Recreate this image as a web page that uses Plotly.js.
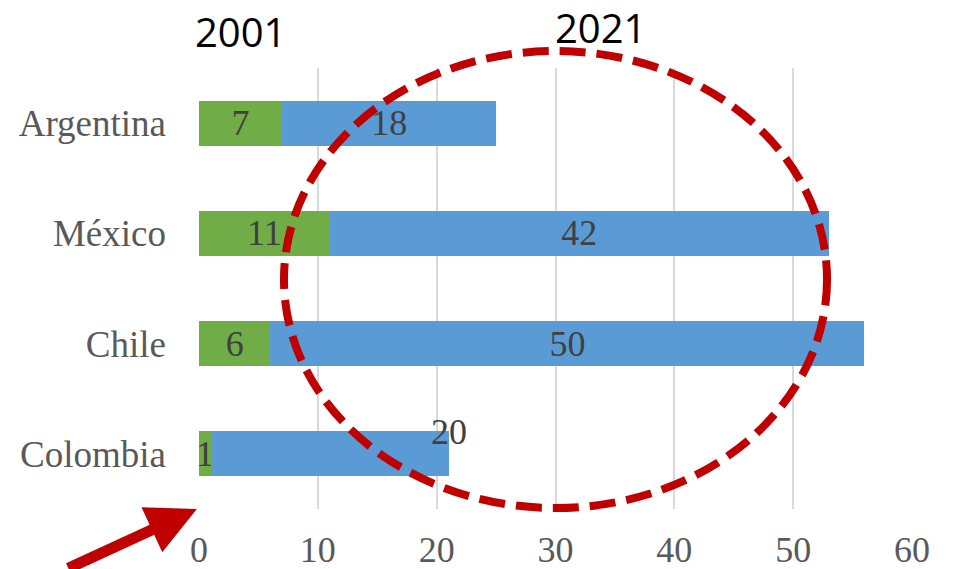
<!DOCTYPE html>
<html>
<head>
<meta charset="utf-8">
<script src="https://cdn.plot.ly/plotly-3.0.1.min.js"></script>
<style>html,body{margin:0;padding:0;background:#fff;}#chart{width:956px;height:569px;}</style>
</head>
<body>
<div id="chart"></div>
<script>
const countries = ["Argentina", "México", "Chile", "Colombia"];
const values2001 = [7, 11, 6, 1];
const values2021 = [18, 42, 50, 20];
const xTicks = [0, 10, 20, 30, 40, 50, 60];
const yearLabels = ["2001", "2021"];

const serif = "Liberation Serif, Times New Roman, serif";

// Colombia's 2021 label is drawn above the bar end, the others inside
const insideMask = values2021.map((v, i) => countries[i] === "Colombia" ? "none" : "inside");

const traces = [
  {
    type: "bar", orientation: "h", name: "2001",
    y: countries, x: values2001,
    text: values2001.map(String),
    textposition: "inside", insidetextanchor: "middle", constraintext: "none", textangle: 0,
    textfont: {family: serif, size: 36, color: "#404040"},
    marker: {color: "#70AD47"},
    hoverinfo: "none", cliponaxis: false
  },
  {
    type: "bar", orientation: "h", name: "2021",
    y: countries, x: values2021,
    text: values2021.map(String),
    textposition: insideMask, insidetextanchor: "middle", constraintext: "none", textangle: 0,
    textfont: {family: serif, size: 36, color: "#404040"},
    marker: {color: "#5B9BD5"},
    hoverinfo: "none"
  }
];

const L = 199, R = 44, T = 68, B = 60, W = 956, H = 569;
const pw = W - L - R, ph = H - T - B;

const annotations = [];
countries.forEach((c, i) => {
  if (insideMask[i] === "none") {
    annotations.push({
      x: values2001[i] + values2021[i], y: c, xref: "x", yref: "y",
      xanchor: "center", yanchor: "middle",
      text: String(values2021[i]), showarrow: false, yshift: 22,
      font: {family: serif, size: 36, color: "#404040"}
    });
  }
});
// year labels, placed by pixel position converted to paper coords
[[240, 32], [600, 28]].forEach((p, i) => {
  annotations.push({
    x: (p[0] - L) / pw, y: (H - B - p[1]) / ph, xref: "paper", yref: "paper",
    xanchor: "center", yanchor: "middle",
    text: yearLabels[i], showarrow: false,
    font: {family: "Open Sans, sans-serif", size: 40, color: "#000"}
  });
});
// red arrow pointing at the origin
annotations.push({
  x: -0.003, y: 0, xref: "paper", yref: "paper", text: "",
  showarrow: true, arrowhead: 2, arrowsize: 0.9, arrowwidth: 11,
  arrowcolor: "#C00000", ax: -130, ay: 80, standoff: 0
});

const layout = {
  width: W, height: H,
  margin: {l: L, r: R, t: T, b: B},
  paper_bgcolor: "#fff", plot_bgcolor: "#fff",
  barmode: "stack", bargap: 0.592, showlegend: false,
  xaxis: {
    range: [0, 60], tickvals: xTicks, ticktext: xTicks.map(String),
    showgrid: true, gridcolor: "#D9D9D9", gridwidth: 2,
    zeroline: false, showline: false, ticks: "",
    tickfont: {family: serif, size: 36, color: "#595959"},
    ticklabelstandoff: 16, fixedrange: true
  },
  yaxis: {
    type: "category", autorange: "reversed",
    showgrid: false, zeroline: false, showline: false, ticks: "",
    tickfont: {family: serif, size: 37, color: "#595959"},
    ticklabelstandoff: 32, fixedrange: true
  },
  shapes: [{
    type: "circle", xref: "x", yref: "paper",
    x0: 7.15, x1: 52.85, y0: 0.0023, y1: 1.0385,
    line: {color: "#C00000", width: 8, dash: "26px,11px"}
  }],
  annotations: annotations
};

Plotly.newPlot("chart", traces, layout, {displayModeBar: false, staticPlot: true});
</script>
</body>
</html>
